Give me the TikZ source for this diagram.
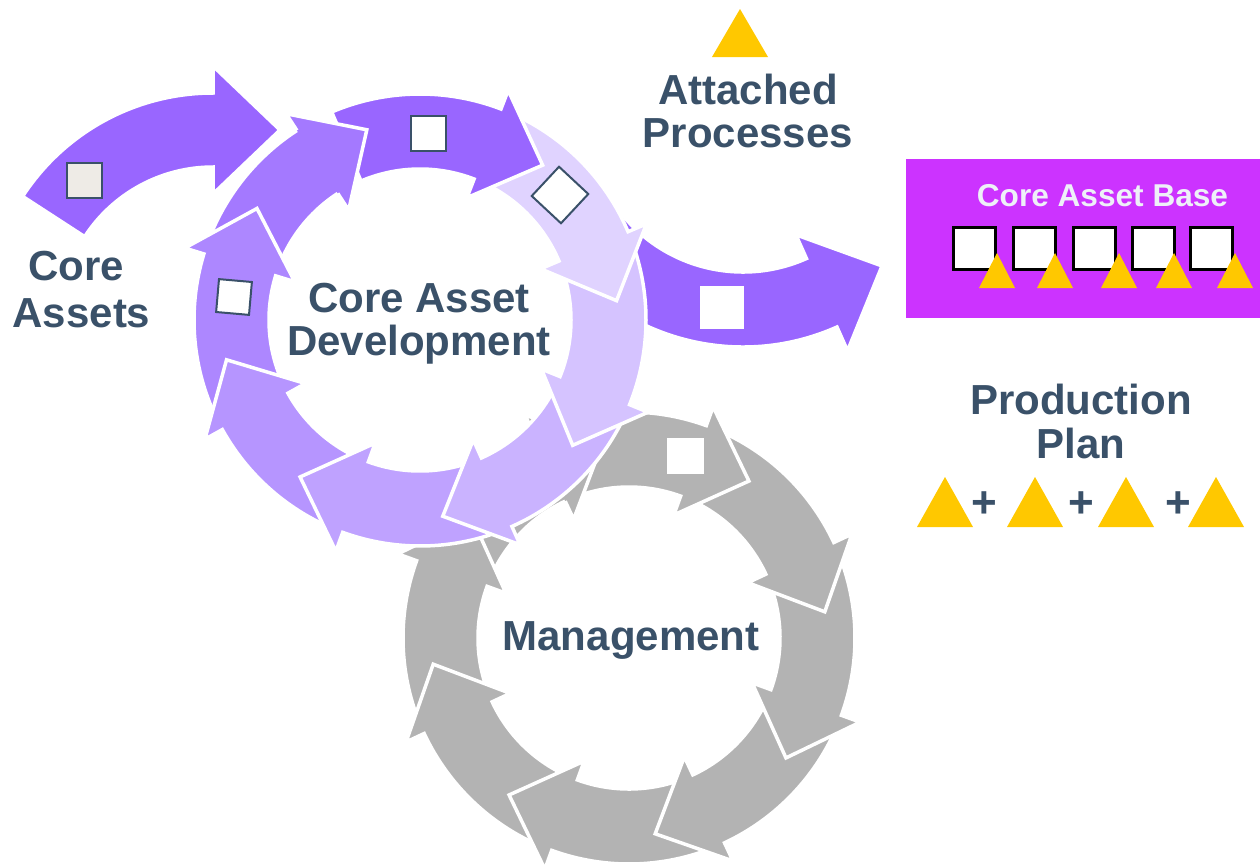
\documentclass[tikz,border=0pt]{standalone}
\usepackage{fontspec}
\setmainfont{Liberation Sans}
\usetikzlibrary{calc}
\definecolor{txt}{HTML}{3A5169}
\definecolor{p0}{HTML}{9966FF}
\definecolor{p1}{HTML}{E0D3FF}
\definecolor{p2}{HTML}{D5C3FF}
\definecolor{p3}{HTML}{CAB3FF}
\definecolor{p4}{HTML}{BFA2FF}
\definecolor{p5}{HTML}{B695FF}
\definecolor{p6}{HTML}{AD87FF}
\definecolor{p7}{HTML}{A479FF}
\definecolor{gr}{HTML}{B3B3B3}
\definecolor{cab}{HTML}{CC33FF}
\definecolor{gold}{HTML}{FFC800}
\definecolor{cabtxt}{HTML}{EEF0F8}
\definecolor{beige}{HTML}{EEEBE6}

% curved arrow: #1 centre, #2 inner r, #3 outer r, #4 tail angle, #5 head-base angle,
% #6 barb extension, #7 head length, #8 direction (1 = clockwise, -1 = counter), #9 style
\newcommand\carrow[9]{%
  \pgfmathsetmacro\caTa{-(#4)}%
  \pgfmathsetmacro\caTb{-(#5)}%
  \pgfmathsetmacro\caTt{-(#5)+90*(#8)}%
  \pgfmathsetmacro\caBi{#2-#6}%
  \pgfmathsetmacro\caBo{#3+#6}%
  \pgfmathsetmacro\caRm{(#2+#3)/2}%
  \filldraw[segline,#9] ($(#1)+(\caTa:#3)$) arc[start angle=\caTa,end angle=\caTb,radius=#3]
    -- ($(#1)+(\caTb:\caBo)$) -- ($(#1)+(\caTb:\caRm)+(\caTt:#7)$)
    -- ($(#1)+(\caTb:\caBi)$) -- ($(#1)+(\caTb:#2)$)
    arc[start angle=\caTb,end angle=\caTa,radius=#2] -- cycle;}
% redraw only the head of such an arrow
\newcommand\chead[8]{%
  \pgfmathsetmacro\caTb{-(#4)}%
  \pgfmathsetmacro\caTt{-(#4)+90*(#7)}%
  \pgfmathsetmacro\caBi{#2-#5}%
  \pgfmathsetmacro\caBo{#3+#5}%
  \pgfmathsetmacro\caRm{(#2+#3)/2}%
  \fill[#8] ($(#1)+(\caTb:\caBo)$) -- ($(#1)+(\caTb:\caRm)+(\caTt:#6)$) -- ($(#1)+(\caTb:\caBi)$) -- cycle;
  \draw[segline] ($(#1)+(\caTb:#3)$) -- ($(#1)+(\caTb:\caBo)$) -- ($(#1)+(\caTb:\caRm)+(\caTt:#6)$)
    -- ($(#1)+(\caTb:\caBi)$) -- ($(#1)+(\caTb:#2)$);}

\tikzset{
  segline/.style={draw=white, line width=3.5pt, line join=miter},
  lbl/.style={font=\fontsize{42}{42}\selectfont\bfseries, text=txt, inner sep=0pt, anchor=base},
  sqo/.style={draw=txt, line width=2pt, fill=white, inner sep=0pt},
  sqw/.style={fill=white, inner sep=0pt},
  cabsq/.style={draw=black, line width=3pt, fill=white, inner sep=0pt, minimum size=42pt},
}

\begin{document}
\begin{tikzpicture}[x=1pt,y=-1pt]
\useasboundingbox (0,0) rectangle (1260,865);
\fill[white] (0,0) rectangle (1260,865);

% ---- Management cycle (grey) ----
\foreach \B in {-245,-200,-155,-110,-65,-20,25,70}
  {\carrow{629,638}{151}{226}{\B+44}{\B}{20}{59}{1}{fill=gr}}
\chead{629,638}{151}{226}{-245}{20}{59}{1}{gr}
\node[sqw, minimum width=37pt, minimum height=36pt] (sqF) at (685.5,456) {};

% ---- output arrow to the core asset base ----
\carrow{743,116}{156}{231}{-143}{-66}{26}{66}{-1}{fill=p0}
\node[sqw, minimum width=44pt, minimum height=43pt] (sqE) at (722,307.5) {};

% ---- Core assets arrow ----
\carrow{213,320}{153}{227}{147}{90}{27}{67}{1}{fill=p0}
\node[sqo, fill=beige, minimum size=35pt] (sqA) at (84,180) {};

% ---- Core asset development cycle ----
\foreach \B/\C in {-237/p7,-197/p6,-151/p5,-110/p4,-66/p3,-22/p2,23/p1,69/p0}
  {\carrow{420,320}{151}{226}{\B+44}{\B}{20}{59}{1}{fill=\C}}
\chead{420,320}{151}{226}{-237}{20}{59}{1}{p7}
\node[sqo, minimum size=35pt] (sqB) at (428.5,133.5) {};
\node[sqo, minimum size=33pt, rotate=-5] (sqC) at (234,297) {};
\node[sqo, minimum size=40pt, rotate=47] (sqD) at (560,195) {};

% ---- texts ----
\node[lbl] (core1) at (76,280) {Core};
\node[lbl] (core2) at (81.5,327) {Assets};
\node[lbl] (cad1) at (419,312) {Core Asset};
\node[lbl] (cad2) at (419,355) {Development};
\node[lbl] (mgmt) at (631,650) {Management};
\node[lbl] (att1) at (748,104) {Attached};
\node[lbl] (att2) at (748,147) {Processes};
\node[lbl] (pp1) at (1081,414) {Production};
\node[lbl] (pp2) at (1081,458) {Plan};

% attached processes triangle
\fill[gold] (712,57) -- (740,9) -- (768,57) -- cycle;

% ---- Core asset base ----
\node[fill=cab, minimum width=354pt, minimum height=159pt, inner sep=0pt, anchor=north west] (cab) at (906,159) {};
\node[font=\fontsize{31.6}{32}\selectfont\bfseries, text=cabtxt, inner sep=0pt, anchor=base] (cabt) at (1102.5,206) {Core Asset Base};
\foreach \x [count=\i] in {974.5,1034.5,1094.5,1153.5,1211.5}
  {\node[cabsq] (cs\i) at (\x,248) {};}
\foreach \a in {997,1055,1119,1174,1235}
  {\fill[gold] (\a-18,288) -- (\a,253) -- (\a+18,288) -- cycle;}

% ---- production plan triangles ----
\foreach \a in {945,1035,1126,1216}
  {\fill[gold] (\a-28,527) -- (\a,477) -- (\a+28,527) -- cycle;}
\node[lbl, font=\fontsize{44}{44}\selectfont\bfseries] (plus1) at (984,517.5) {+};
\node[lbl, font=\fontsize{44}{44}\selectfont\bfseries] (plus2) at (1081,517.5) {+};
\node[lbl, font=\fontsize{44}{44}\selectfont\bfseries] (plus3) at (1178.5,517.5) {+};
\end{tikzpicture}
\end{document}
